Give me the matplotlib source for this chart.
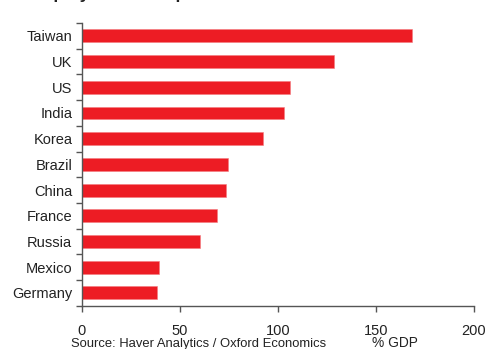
import matplotlib.pyplot as plt
import numpy as np

plt.rcParams['font.family'] = ['Liberation Sans', 'DejaVu Sans']

countries = ['Taiwan', 'UK', 'US', 'India', 'Korea', 'Brazil',
             'China', 'France', 'Russia', 'Mexico', 'Germany']
values = [168.5, 128.4, 106.3, 103.0, 92.2, 74.7, 73.3, 68.7, 60.2, 39.5, 38.1]
x_ticks = [0, 50, 100, 150, 200]

fig = plt.figure(figsize=(4.86, 3.49), dpi=100)
ax = fig.add_axes([0.1687, 0.124, 0.8066, 0.810])

pos = np.arange(len(countries))
ax.barh(pos, values, height=0.5, color='#ED1C24', edgecolor='#F47A7F', linewidth=0.4)

ax.set_ylim(len(countries) - 0.5, -0.5)
ax.set_xlim(0, 200)

ax.set_yticks(pos)
ax.set_yticklabels(countries)
ax.set_yticks(np.arange(-0.5, len(countries)), minor=True)
ax.tick_params(axis='y', which='major', length=0, pad=7, labelsize=10.5, labelcolor='#222222')
ax.tick_params(axis='y', which='minor', length=4, width=1, color='#555555', direction='out')

ax.set_xticks(x_ticks)
ax.tick_params(axis='x', length=4, width=1, color='#555555', direction='out',
               pad=9, labelsize=10.5, labelcolor='#222222')

for s in ['top', 'right']:
    ax.spines[s].set_visible(False)
for s in ['left', 'bottom']:
    ax.spines[s].set_color('#555555')
    ax.spines[s].set_linewidth(1)

# title sits above the visible canvas, only its descenders show
fig.text(0.075, 1 + 1 / 349, 'Equity market capitalisation', fontsize=12.5,
         fontweight='bold', color='#222222', va='baseline', ha='left')

fig.text(71 / 486, 1 - 347 / 349, 'Source: Haver Analytics / Oxford Economics',
         fontsize=9.4, color='#222222', va='baseline', ha='left')
fig.text(372 / 486, 1 - 347 / 349, '% GDP', fontsize=9.9, color='#222222',
         va='baseline', ha='left')

fig.savefig('out.png', dpi=100)
